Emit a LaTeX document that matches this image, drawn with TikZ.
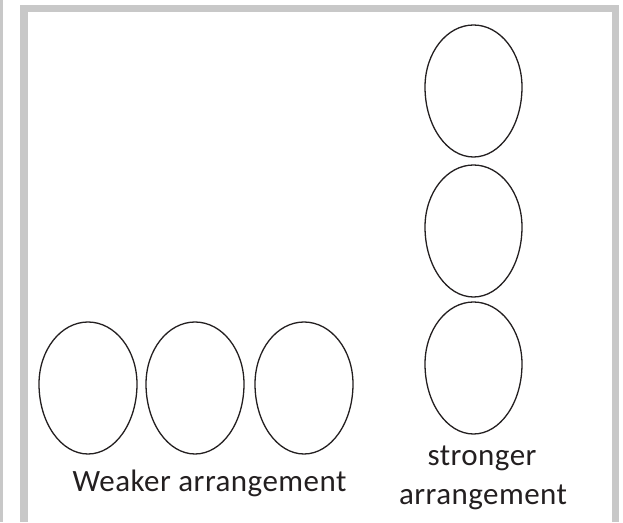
\documentclass[tikz,border=0pt]{standalone}
\usepackage{fontspec}
\setmainfont{Carlito}[LetterSpace=1.5]
\usepackage{tikz}
\usetikzlibrary{positioning}
\definecolor{framegray}{HTML}{C8C8C8}
\definecolor{eggline}{HTML}{231F20}

\begin{document}
\begin{tikzpicture}[
    x=1pt, y=1pt,
    frame/.style={draw=framegray, line width=7.5pt, line join=miter},
    eggshape/.style={draw=eggline, line width=1.3pt},
    caption/.style={font=\fontsize{31}{39}\selectfont, text=eggline, inner sep=0pt, align=center},
  ]

  \useasboundingbox (0,0) rectangle (623,522);

  % outer frames
  \fill[framegray] (0,0) rectangle (3.3,522);
  \draw[frame] (23.8,0) |- (615.5,513.5) -- (615.5,0);

  % eggs in a row
  \foreach \cx in {88,195,304} {
    \draw[eggshape] (\cx+49,138)
      arc[start angle=0, end angle=180, x radius=49, y radius=62]
      arc[start angle=180, end angle=360, x radius=49, y radius=70];
  }

  % eggs stacked
  \foreach \cy in {435,295,158} {
    \draw[eggshape] (473.5+48.5,\cy)
      arc[start angle=0, end angle=180, x radius=48.5, y radius=62]
      arc[start angle=180, end angle=360, x radius=48.5, y radius=70];
  }

  % labels
  \node[caption, anchor=base] (weak) at (209.4,30.3) {Weaker arrangement};
  \node[caption, anchor=base] (strong) at (482,57) {stronger};
  \node[caption, anchor=base] (strong2) at (483,18) {arrangement};

\end{tikzpicture}
\end{document}
